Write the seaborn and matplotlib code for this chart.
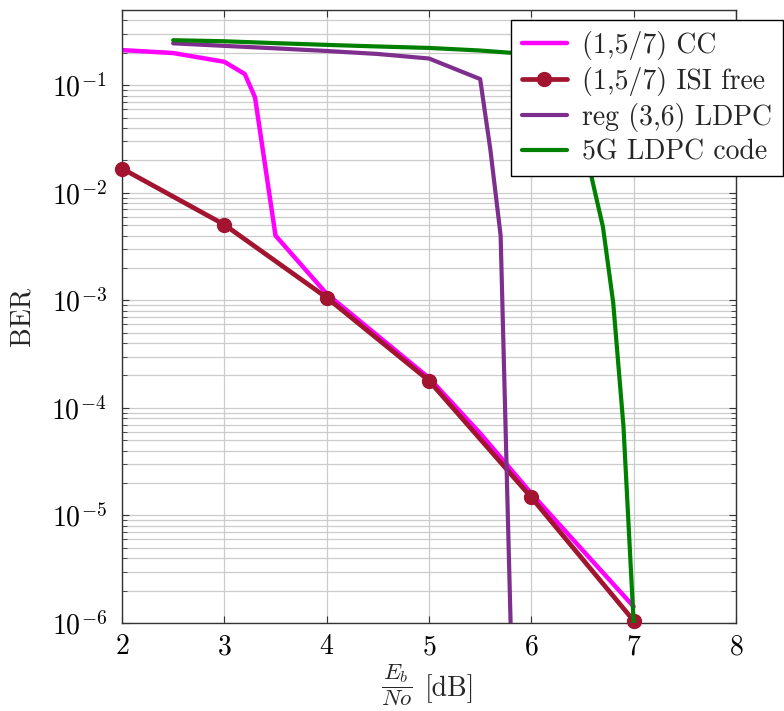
import numpy as np
import pandas as pd
import matplotlib
matplotlib.use("Agg")
import matplotlib.pyplot as plt
import seaborn as sns

# ---- data ----
cc_x = [2.0, 2.5, 3.0, 3.2, 3.3, 3.5, 4.0, 5.0, 5.5, 6.0, 7.0]
cc_y = [0.212, 0.199, 0.165, 0.127, 0.077, 0.0040, 1.15e-3, 1.9e-4, 5.8e-5, 1.6e-5, 1.42e-6]

isi_x = [2.0, 3.0, 4.0, 5.0, 6.0, 7.0]
isi_y = [0.0168, 0.00505, 1.06e-3, 1.79e-4, 1.47e-5, 1.05e-6]

reg_x = [2.5, 3.0, 3.5, 4.0, 4.5, 5.0, 5.5, 5.6, 5.7, 5.8]
reg_y = [0.245, 0.232, 0.220, 0.208, 0.195, 0.177, 0.114, 0.025, 0.0040, 8e-7]

g5_x = [2.5, 3.0, 3.5, 4.0, 4.5, 5.0, 5.5, 5.8, 6.0, 6.2, 6.4, 6.5, 6.6, 6.7, 6.8, 6.9, 7.0]
g5_y = [0.262, 0.256, 0.246, 0.237, 0.229, 0.222, 0.210, 0.200, 0.19, 0.16, 0.075,
        0.035, 0.0125, 0.0048, 9.5e-4, 6.8e-5, 1.0e-6]

labels = ["(1,5/7) CC", "(1,5/7) ISI free", "reg (3,6) LDPC", "5G LDPC code"]
colors = ["#FF00FF", "#A2142F", "#7E2F8E", "#008000"]
x_ticks = [2, 3, 4, 5, 6, 7, 8]
y_ticks = [1e-6, 1e-5, 1e-4, 1e-3, 1e-2, 1e-1]

# ---- style ----
sns.set_theme(style="ticks")
plt.rcParams["font.family"] = ["cmr10", "DejaVu Serif"]
plt.rcParams["mathtext.fontset"] = "cm"
plt.rcParams["axes.formatter.use_mathtext"] = True

FS = 20

fig = plt.figure(figsize=(7.84, 7.11), dpi=100)
ax = fig.add_axes([122/784, 1 - 623/711, (736 - 122)/784, (623 - 10)/711])

series = [(cc_x, cc_y), (isi_x, isi_y), (reg_x, reg_y), (g5_x, g5_y)]
widths = [3.2, 3.4, 3.0, 3.0]
for i, ((xs, ys), lab, col, lw) in enumerate(zip(series, labels, colors, widths)):
    df = pd.DataFrame({"x": xs, "y": ys})
    kw = dict(color=col, linewidth=lw, label=lab, ax=ax, legend=False, sort=False)
    if i == 1:
        kw.update(marker="o", markersize=10, markeredgecolor=col, markerfacecolor=col,
                  markeredgewidth=1.0, clip_on=False, zorder=3)
    sns.lineplot(data=df, x="x", y="y", **kw)
for ln in ax.get_lines()[2:]:
    ln.set_zorder(4)

ax.set_yscale("log")
ax.set_xlim(2, 8)
ax.set_ylim(1e-6, 0.5)
ax.set_xticks(x_ticks)
ax.set_yticks(y_ticks)
ax.xaxis.set_major_formatter(matplotlib.ticker.FuncFormatter(lambda v, p: f"${int(round(v))}$"))
ax.yaxis.set_major_formatter(matplotlib.ticker.FuncFormatter(
    lambda v, p: r"$10^{%d}$" % int(round(np.log10(v)))))
ax.yaxis.set_minor_locator(matplotlib.ticker.LogLocator(base=10, subs=np.arange(2, 10), numticks=50))
ax.yaxis.set_minor_formatter(matplotlib.ticker.NullFormatter())

ax.grid(True, which="major", axis="both", color="#cccccc", linewidth=0.9)
ax.grid(True, which="minor", axis="y", color="#cccccc", linewidth=0.9)
ax.set_axisbelow(True)

ax.tick_params(which="both", direction="in", top=True, right=True, colors="#333333",
               labelcolor="black", labelsize=FS)
ax.tick_params(which="major", length=5, width=0.8)
ax.tick_params(which="minor", length=3.5, width=0.6)
ax.tick_params(axis="x", which="major", pad=8)
ax.tick_params(axis="y", which="major", pad=11)
for s in ax.spines.values():
    s.set_color("#333333")
    s.set_linewidth(1.0)
    s.set_zorder(2.5)

# x label: fraction + unit
ax.set_xlabel("")
fig.text(397/784, 1 - 685/711, r"$\dfrac{E_b}{No}$", fontsize=16.5, ha="center", va="center")
fig.text(425/784, 1 - 689/711, "[dB]", fontsize=FS, ha="left", va="center")
ax.set_ylabel("BER", fontsize=FS)
ax.yaxis.set_label_coords(-(122 - 36) / 614, 0.5)

handles, labs = ax.get_legend_handles_labels()
leg = fig.legend(handles, labs, loc="upper right", bbox_to_anchor=(783/784, 1 - 20/711),
                 fontsize=FS, frameon=True, fancybox=False, framealpha=1,
                 edgecolor="black", handlelength=1.6, handletextpad=0.55,
                 borderpad=0.4, labelspacing=0.25, borderaxespad=0)
leg.get_frame().set_linewidth(1.0)

fig.savefig("out.png", dpi=100)
